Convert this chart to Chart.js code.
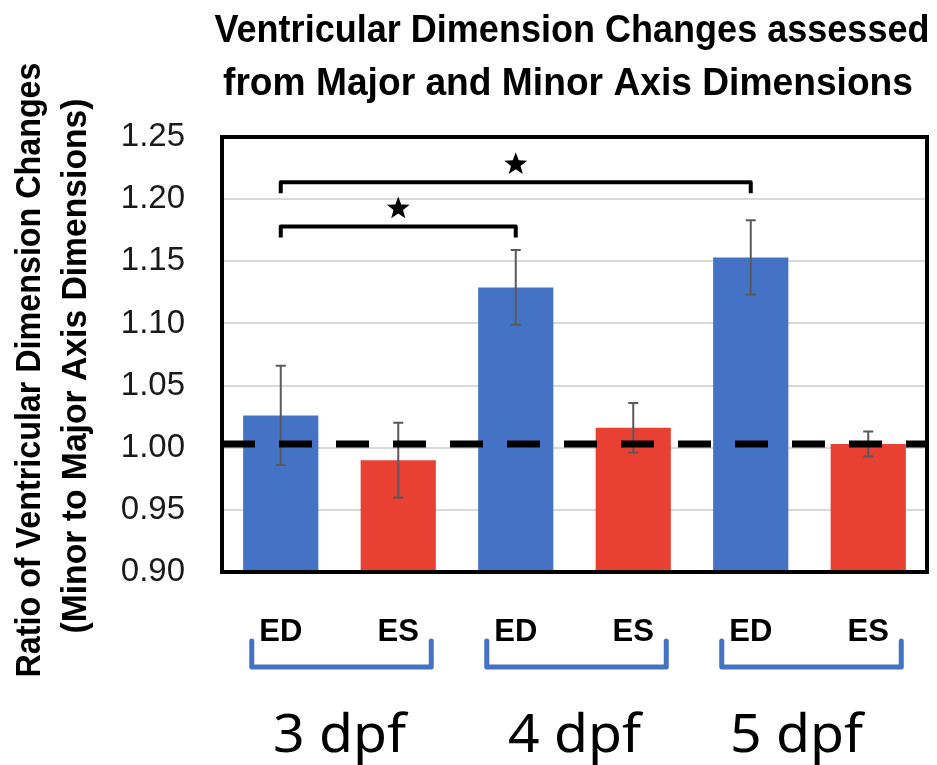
<!DOCTYPE html>
<html>
<head>
<meta charset="utf-8">
<title>Ventricular Dimension Changes</title>
<script src="https://cdn.jsdelivr.net/npm/chart.js@4.4.1/dist/chart.umd.min.js"></script>
<style>
  html, body { margin: 0; padding: 0; background: #ffffff; }
  canvas { display: block; }
</style>
</head>
<body>
<canvas id="chart" width="937" height="765"></canvas>
<script>
// Cardiac phase of each bar (end-diastole / end-systole), grouped by age
const phases = ['ED', 'ES', 'ED', 'ES', 'ED', 'ES'];
const ages = ['3 dpf', '4 dpf', '5 dpf'];
// Minor-to-major axis ratio and its error, one value per bar
const ratioMean = [1.026, 0.990, 1.129, 1.016, 1.153, 1.003];
const ratioErr = [0.040, 0.030, 0.030, 0.020, 0.030, 0.010];
// Reference ratio shown as the dashed line
const referenceRatio = 1.003;
// Significant comparisons (bar index pairs) and the height of each bracket
const sigPairs = [[0, 2], [0, 4]];
const sigLevels = [1.178, 1.2135];
// Y axis tick values
const yTickValues = [0.90, 0.95, 1.00, 1.05, 1.10, 1.15, 1.20, 1.25];

const phaseColors = { ED: '#4472C4', ES: '#E84133' };

// Draw text squeezed or stretched horizontally to a given width
function fittedText(ctx, text, x, y, width, font, rotate) {
  ctx.save();
  ctx.font = font;
  const w = ctx.measureText(text).width;
  ctx.translate(x, y);
  if (rotate) ctx.rotate(-Math.PI / 2);
  ctx.scale(width / w, 1);
  ctx.textAlign = 'center';
  ctx.textBaseline = 'alphabetic';
  ctx.fillStyle = '#000000';
  ctx.fillText(text, 0, 0);
  ctx.restore();
}

function starPath(ctx, cx, cy, outer, inner) {
  ctx.beginPath();
  for (let i = 0; i < 10; i++) {
    const r = i % 2 === 0 ? outer : inner;
    const a = -Math.PI / 2 + i * Math.PI / 5;
    const px = cx + r * Math.cos(a);
    const py = cy + r * Math.sin(a);
    if (i === 0) ctx.moveTo(px, py); else ctx.lineTo(px, py);
  }
  ctx.closePath();
}

const decorations = {
  id: 'decorations',
  afterDatasetsDraw(chart) {
    const { ctx, chartArea: area, scales: { x, y } } = chart;
    const meta = chart.getDatasetMeta(0);

    // error bars
    ctx.save();
    ctx.strokeStyle = '#595959';
    ctx.lineWidth = 2;
    meta.data.forEach((bar, i) => {
      const cx = bar.x;
      const yTop = y.getPixelForValue(ratioMean[i] + ratioErr[i]);
      const yBot = y.getPixelForValue(ratioMean[i] - ratioErr[i]);
      ctx.beginPath();
      ctx.moveTo(cx, yTop); ctx.lineTo(cx, yBot);
      ctx.moveTo(cx - 5, yTop); ctx.lineTo(cx + 5, yTop);
      ctx.moveTo(cx - 5, yBot); ctx.lineTo(cx + 5, yBot);
      ctx.stroke();
    });
    ctx.restore();

    // dashed reference line
    ctx.save();
    const yRef = y.getPixelForValue(referenceRatio);
    ctx.strokeStyle = '#000000';
    ctx.lineWidth = 7;
    ctx.setLineDash([33, 24]);
    ctx.beginPath();
    ctx.moveTo(area.left, yRef);
    ctx.lineTo(area.right, yRef);
    ctx.stroke();
    ctx.restore();

    // significance brackets with stars
    ctx.save();
    ctx.strokeStyle = '#000000';
    ctx.fillStyle = '#000000';
    ctx.lineWidth = 4;
    ctx.lineJoin = 'round';
    sigPairs.forEach((pair, k) => {
      const x1 = x.getPixelForValue(pair[0]);
      const x2 = x.getPixelForValue(pair[1]);
      const yb = y.getPixelForValue(sigLevels[k]);
      ctx.beginPath();
      ctx.moveTo(x1, yb + 11);
      ctx.lineTo(x1, yb);
      ctx.lineTo(x2, yb);
      ctx.lineTo(x2, yb + 11);
      ctx.stroke();
      starPath(ctx, (x1 + x2) / 2, yb - 18, 12, 5);
      ctx.fill();
    });
    ctx.restore();

    // plot frame
    ctx.save();
    ctx.strokeStyle = '#000000';
    ctx.lineWidth = 4;
    ctx.strokeRect(area.left, area.top, area.right - area.left, area.bottom - area.top);
    ctx.restore();
  },
  afterDraw(chart) {
    const { ctx, chartArea: area, scales: { x } } = chart;

    // chart title
    fittedText(ctx, 'Ventricular Dimension Changes assessed', 572, 42, 715, 'bold 39px "Liberation Sans"');
    fittedText(ctx, 'from Major and Minor Axis Dimensions', 568, 95, 690, 'bold 39px "Liberation Sans"');

    // y axis title
    fittedText(ctx, 'Ratio of Ventricular Dimension Changes', 40, 370, 615, 'bold 35px "Liberation Sans"', true);
    fittedText(ctx, '(Minor to Major Axis Dimensions)', 86, 366, 535, 'bold 35px "Liberation Sans"', true);

    // age group braces and labels
    const nudge = [0, 0, -13];
    ctx.save();
    ctx.strokeStyle = '#4472C4';
    ctx.lineWidth = 5;
    ctx.lineJoin = 'round';
    ctx.lineCap = 'round';
    ages.forEach((age, g) => {
      const xl = x.getPixelForValue(g * 2) - 29;
      const xr = x.getPixelForValue(g * 2 + 1) + 33;
      const top = area.bottom + 69;
      const bottom = area.bottom + 95;
      ctx.beginPath();
      ctx.moveTo(xl, top);
      ctx.lineTo(xl, bottom);
      ctx.lineTo(xr, bottom);
      ctx.lineTo(xr, top);
      ctx.stroke();
      const mid = (x.getPixelForValue(g * 2) + x.getPixelForValue(g * 2 + 1)) / 2 + nudge[g];
      fittedText(ctx, age, mid, 752, 133, '52px "Noto Sans"');
    });
    ctx.restore();
  }
};

new Chart(document.getElementById('chart'), {
  type: 'bar',
  data: {
    labels: phases,
    datasets: [{
      data: ratioMean,
      base: 0.9,
      backgroundColor: phases.map(p => phaseColors[p]),
      borderWidth: 0,
      barPercentage: 0.64,
      categoryPercentage: 1.0
    }]
  },
  options: {
    responsive: false,
    devicePixelRatio: 1,
    animation: false,
    layout: { padding: { top: 137, right: 10, bottom: 0, left: 0 } },
    plugins: {
      legend: { display: false },
      tooltip: { enabled: false },
      title: { display: false }
    },
    scales: {
      x: {
        grid: { display: false, drawTicks: false },
        border: { display: false },
        ticks: {
          color: '#000000',
          font: { family: '"Liberation Sans"', size: 31, weight: 'bold' },
          padding: 42,
          maxRotation: 0
        },
        afterFit(scale) { scale.height = 193; }
      },
      y: {
        min: 0.9,
        max: 1.25,
        afterBuildTicks(scale) { scale.ticks = yTickValues.map(v => ({ value: v })); },
        grid: { color: '#d9d9d9', lineWidth: 2, drawTicks: false },
        border: { display: false },
        ticks: {
          color: '#1a1a1a',
          font: { family: '"Liberation Sans"', size: 33 },
          padding: 37,
          callback: v => Number(v).toFixed(2)
        },
        afterFit(scale) { scale.width = 222; }
      }
    }
  },
  plugins: [decorations]
});
</script>
</body>
</html>
